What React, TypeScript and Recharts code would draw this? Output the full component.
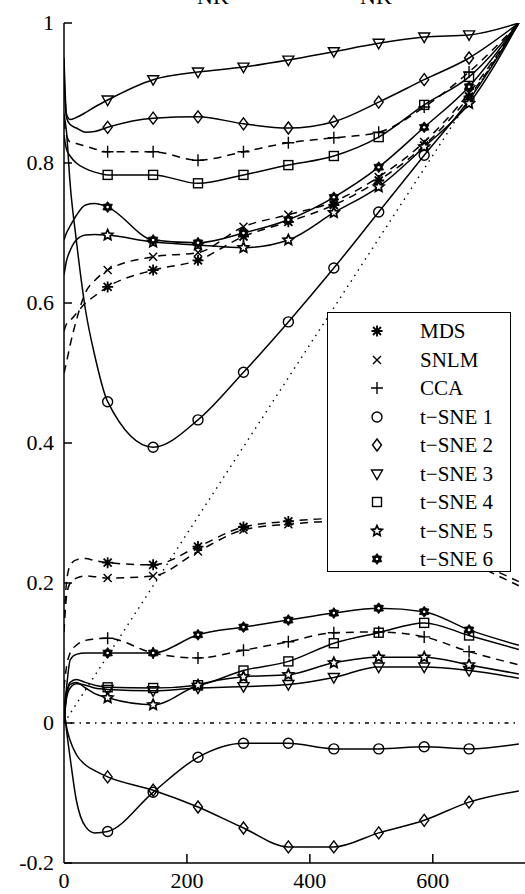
import React from 'react'
import { LineChart, Line, XAxis, YAxis, ReferenceLine, Legend } from 'recharts'

// x positions (neighbourhood size); markers sit on 71..659
const K = [0, 4, 10, 20, 35, 50, 71, 145, 218, 292, 365, 439, 512, 586, 659, 740]

// upper group
const mdsUp = [0.56, 0.57, 0.575, 0.585, 0.6, 0.61, 0.623, 0.647, 0.661, 0.695, 0.716, 0.74, 0.775, 0.825, 0.895, 1]
const snlmUp = [0.5, 0.515, 0.54, 0.575, 0.615, 0.632, 0.647, 0.666, 0.672, 0.709, 0.726, 0.745, 0.78, 0.83, 0.9, 1]
const ccaUp = [0.86, 0.84, 0.83, 0.828, 0.824, 0.82, 0.816, 0.816, 0.804, 0.816, 0.829, 0.836, 0.844, 0.88, 0.93, 1]
const t1Up = [0.87, 0.845, 0.77, 0.69, 0.59, 0.525, 0.459, 0.394, 0.433, 0.501, 0.573, 0.65, 0.73, 0.811, 0.89, 1]
const t2Up = [0.93, 0.865, 0.855, 0.85, 0.844, 0.845, 0.851, 0.864, 0.866, 0.856, 0.85, 0.859, 0.887, 0.919, 0.95, 1]
const t3Up = [0.95, 0.87, 0.862, 0.865, 0.872, 0.88, 0.89, 0.919, 0.93, 0.937, 0.947, 0.959, 0.971, 0.98, 0.983, 1]
const t4Up = [0.84, 0.82, 0.81, 0.8, 0.792, 0.787, 0.783, 0.783, 0.771, 0.783, 0.797, 0.81, 0.837, 0.883, 0.923, 1]
const t5Up = [0.64, 0.66, 0.675, 0.69, 0.697, 0.698, 0.697, 0.687, 0.683, 0.679, 0.69, 0.729, 0.766, 0.823, 0.885, 1]
const t6Up = [0.69, 0.7, 0.71, 0.725, 0.74, 0.742, 0.737, 0.69, 0.686, 0.7, 0.719, 0.751, 0.794, 0.851, 0.909, 1]

// lower group
const mdsLo = [0.15, 0.2, 0.225, 0.233, 0.235, 0.232, 0.229, 0.226, 0.252, 0.28, 0.288, 0.292, 0.285, 0.265, 0.235, 0.202]
const snlmLo = [0.13, 0.18, 0.2, 0.207, 0.21, 0.209, 0.207, 0.21, 0.245, 0.276, 0.284, 0.288, 0.28, 0.26, 0.23, 0.196]
const ccaLo = [0.05, 0.08, 0.1, 0.111, 0.118, 0.12, 0.121, 0.1, 0.093, 0.104, 0.116, 0.129, 0.13, 0.123, 0.102, 0.083]
const t1Lo = [0.02, -0.01, -0.05, -0.11, -0.148, -0.157, -0.155, -0.099, -0.049, -0.029, -0.029, -0.037, -0.037, -0.034, -0.037, -0.03]
const t2Lo = [0.02, -0.005, -0.025, -0.045, -0.06, -0.068, -0.077, -0.096, -0.12, -0.15, -0.177, -0.177, -0.157, -0.139, -0.113, -0.097]
const t3Lo = [0.0, 0.035, 0.05, 0.056, 0.054, 0.05, 0.048, 0.046, 0.05, 0.052, 0.055, 0.065, 0.08, 0.08, 0.075, 0.064]
const t4Lo = [0.0, 0.04, 0.058, 0.062, 0.058, 0.054, 0.051, 0.05, 0.054, 0.075, 0.088, 0.114, 0.129, 0.143, 0.125, 0.105]
const t5Lo = [0.0, 0.04, 0.055, 0.058, 0.05, 0.042, 0.036, 0.026, 0.054, 0.066, 0.069, 0.086, 0.094, 0.094, 0.083, 0.07]
const t6Lo = [0.02, 0.05, 0.09, 0.098, 0.1, 0.1, 0.1, 0.1, 0.126, 0.137, 0.147, 0.157, 0.164, 0.159, 0.133, 0.111]

const DIAG = [{ x: 0, y: 0 }, { x: 740, y: 1 }]
const ZERO = [{ x: 0, y: 0 }, { x: 740, y: 0 }]

const X_TICKS = [0, 200, 400, 600]
const Y_TICKS = [-0.2, 0, 0.2, 0.4, 0.6, 0.8, 1]

const METHODS = [
  { name: 'MDS', shape: 'aster', dash: true, up: mdsUp, lo: mdsLo },
  { name: 'SNLM', shape: 'cross', dash: true, up: snlmUp, lo: snlmLo },
  { name: 'CCA', shape: 'plus', dash: true, up: ccaUp, lo: ccaLo },
  { name: 't\u2212SNE 1', shape: 'circle', dash: false, up: t1Up, lo: t1Lo },
  { name: 't\u2212SNE 2', shape: 'diamond', dash: false, up: t2Up, lo: t2Lo },
  { name: 't\u2212SNE 3', shape: 'tri', dash: false, up: t3Up, lo: t3Lo },
  { name: 't\u2212SNE 4', shape: 'square', dash: false, up: t4Up, lo: t4Lo },
  { name: 't\u2212SNE 5', shape: 'star5', dash: false, up: t5Up, lo: t5Lo },
  { name: 't\u2212SNE 6', shape: 'hex6', dash: false, up: t6Up, lo: t6Lo },
]

const rows = K.map((x, i) => {
  const r: any = { x }
  METHODS.forEach((m, j) => {
    r['u' + j] = m.up[i]
    r['l' + j] = m.lo[i]
  })
  return r
})

const W = 525
const H = 894
const LEFT = 64
const BOTTOM = 863
const FONT = '"Liberation Serif", "Times New Roman", serif'
const SW = 1.5

function starPts(cx: number, cy: number, n: number, ro: number, ri: number) {
  const pts: string[] = []
  for (let i = 0; i < n * 2; i++) {
    const r = i % 2 === 0 ? ro : ri
    const a = -Math.PI / 2 + (i * Math.PI) / n
    pts.push(`${cx + r * Math.cos(a)},${cy + r * Math.sin(a)}`)
  }
  return pts.join(' ')
}

function Marker({ shape, cx, cy }: { shape: string; cx: number; cy: number }) {
  const st = { stroke: '#000', strokeWidth: 1.4, fill: 'none' }
  switch (shape) {
    case 'circle':
      return <circle cx={cx} cy={cy} r={5} {...st} />
    case 'diamond':
      return <polygon points={`${cx},${cy - 6} ${cx + 4.5},${cy} ${cx},${cy + 6} ${cx - 4.5},${cy}`} {...st} />
    case 'tri':
      return <polygon points={`${cx - 5.5},${cy - 4} ${cx + 5.5},${cy - 4} ${cx},${cy + 5.5}`} {...st} />
    case 'square':
      return <rect x={cx - 4.5} y={cy - 4.5} width={9} height={9} {...st} />
    case 'plus':
      return <path d={`M${cx - 6},${cy}H${cx + 6}M${cx},${cy - 6}V${cy + 6}`} {...st} />
    case 'cross':
      return <path d={`M${cx - 4},${cy - 4}L${cx + 4},${cy + 4}M${cx - 4},${cy + 4}L${cx + 4},${cy - 4}`} {...st} />
    case 'aster':
      return (
        <g>
          <path
            d={`M${cx - 5.5},${cy}H${cx + 5.5}M${cx},${cy - 5.5}V${cy + 5.5}M${cx - 4},${cy - 4}L${cx + 4},${cy + 4}M${cx - 4},${cy + 4}L${cx + 4},${cy - 4}`}
            stroke="#000"
            strokeWidth={1.8}
          />
          <circle cx={cx} cy={cy} r={2.5} fill="#000" />
        </g>
      )
    case 'star5':
      return <polygon points={starPts(cx, cy, 5, 5.5, 2.6)} stroke="#000" strokeWidth={1.7} fill="#fff" />
    case 'hex6':
      return (
        <g>
          <polygon points={starPts(cx, cy, 6, 5.5, 3.6)} fill="#000" stroke="#000" strokeWidth={0.8} />
          <circle cx={cx} cy={cy} r={1.3} fill="#fff" />
        </g>
      )
    default:
      return null
  }
}

const dotFor = (shape: string, tag: string) => (p: any) => {
  const { cx, cy, index } = p
  if (index < 6 || index > 14 || cx == null || cy == null) return <g key={`${tag}-${index}`} />
  return (
    <g key={`${tag}-${index}`}>
      <Marker shape={shape} cx={cx} cy={cy} />
    </g>
  )
}

const fmtY = (v: number) => (v === 0 ? '0' : v === 1 ? '1' : String(Math.round(v * 10) / 10))

const YTick = (p: any) => {
  const { y, payload } = p
  return (
    <g>
      <line x1={LEFT} x2={LEFT + 8} y1={y} y2={y} stroke="#000" strokeWidth={SW} />
      <text x={54} y={y} dy={7} textAnchor="end" fontFamily={FONT} fontSize={22} fill="#000">
        {fmtY(payload.value)}
      </text>
    </g>
  )
}

const XTick = (p: any) => {
  const { x, payload } = p
  return (
    <g>
      {payload.value !== 0 && <line x1={x} x2={x} y1={BOTTOM} y2={BOTTOM - 9} stroke="#000" strokeWidth={SW} />}
      <text x={x} y={888} textAnchor="middle" fontFamily={FONT} fontSize={22} fill="#000">
        {payload.value}
      </text>
    </g>
  )
}

const LegendBox = () => (
  <div
    style={{
      width: 184,
      height: 260,
      border: '1.5px solid #000',
      background: '#fff',
      boxSizing: 'border-box',
      paddingTop: 4,
      fontFamily: FONT,
      fontSize: 21,
      color: '#000',
    }}
  >
    {METHODS.map((m) => (
      <div key={m.name} style={{ display: 'flex', alignItems: 'center', height: 28.5 }}>
        <svg width={92} height={20} style={{ flex: 'none' }}>
          <Marker shape={m.shape} cx={49} cy={10} />
        </svg>
        <span style={{ lineHeight: '20px' }}>{m.name}</span>
      </div>
    ))}
  </div>
)

export default function App() {
  return (
    <div style={{ position: 'relative', width: W, height: H, background: '#fff', overflow: 'hidden' }}>
      <style>{'body{margin:0}'}</style>
      <svg width={W} height={20} style={{ position: 'absolute', left: 0, top: 0 }}>
        <text x={197} y={4} fontFamily={FONT} fontSize={22} fill="#000">NK</text>
        <text x={360} y={4} fontFamily={FONT} fontSize={22} fill="#000">NK</text>
      </svg>
      <LineChart width={W} height={H} data={rows} margin={{ top: 23, right: 0, bottom: 0, left: 0 }}>
        <XAxis
          dataKey="x"
          type="number"
          domain={[0, 750]}
          ticks={X_TICKS}
          height={31}
          axisLine={{ stroke: '#000', strokeWidth: 1.5 }}
          tickLine={false}
          tick={<XTick />}
          allowDataOverflow
        />
        <YAxis
          type="number"
          domain={[-0.2, 1]}
          ticks={Y_TICKS}
          width={64}
          axisLine={{ stroke: '#000', strokeWidth: 1.5 }}
          tickLine={false}
          tick={<YTick />}
          allowDataOverflow
        />
        <ReferenceLine segment={DIAG} stroke="#000" strokeWidth={1.4} strokeDasharray="1.5 5" ifOverflow="visible" />
        <ReferenceLine segment={ZERO} stroke="#000" strokeWidth={1.4} strokeDasharray="1.5 5 4 5" ifOverflow="visible" />
        {METHODS.map((m, j) => (
          <Line
            key={'u' + j}
            dataKey={'u' + j}
            type="monotone"
            stroke="#000"
            strokeWidth={SW}
            strokeDasharray={m.dash ? '8 6' : undefined}
            dot={dotFor(m.shape, 'u' + j)}
            activeDot={false}
            isAnimationActive={false}
            legendType="none"
          />
        ))}
        {METHODS.map((m, j) => (
          <Line
            key={'l' + j}
            dataKey={'l' + j}
            type="monotone"
            stroke="#000"
            strokeWidth={SW}
            strokeDasharray={m.dash ? '8 6' : undefined}
            dot={dotFor(m.shape, 'l' + j)}
            activeDot={false}
            isAnimationActive={false}
            legendType="none"
          />
        ))}
        <Legend
          layout="vertical"
          align="center"
          verticalAlign="middle"
          content={<LegendBox />}
          wrapperStyle={{ left: 327, top: 312, width: 184, height: 260 }}
        />
      </LineChart>
    </div>
  )
}
